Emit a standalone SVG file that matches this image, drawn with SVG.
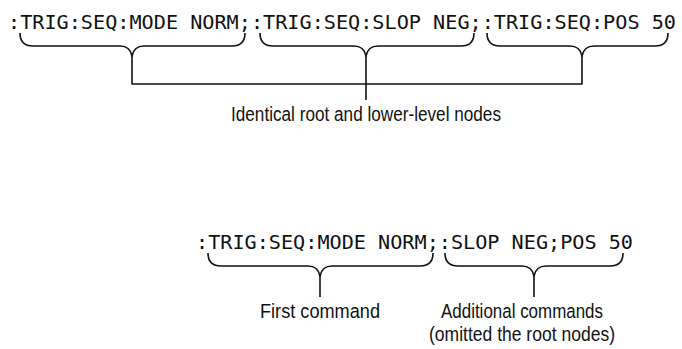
<svg xmlns="http://www.w3.org/2000/svg" width="682" height="349" viewBox="0 0 682 349">
<style>
.code{font-family:"DejaVu Sans Mono","Liberation Mono",monospace;font-size:20.2px;fill:#111}
.lbl{font-family:"Liberation Sans",Arial,sans-serif;font-size:20.5px;fill:#111}
.br{fill:none;stroke:#111;stroke-width:1.6;stroke-linejoin:round}
</style>
<rect width="682" height="349" fill="#fff"/>
<g id="code1"><text class="code" x="8" y="29" textLength="668" lengthAdjust="spacingAndGlyphs">:TRIG:SEQ:MODE NORM;:TRIG:SEQ:SLOP NEG;:TRIG:SEQ:POS 50</text></g>
<g id="label1"><text class="lbl" x="366" y="121" text-anchor="middle" textLength="270" lengthAdjust="spacingAndGlyphs">Identical root and lower-level nodes</text></g>
<g id="code2"><text class="code" x="196" y="249" textLength="437" lengthAdjust="spacingAndGlyphs">:TRIG:SEQ:MODE NORM;:SLOP NEG;POS 50</text></g>
<g id="label2"><text class="lbl" x="320" y="318" text-anchor="middle" textLength="120" lengthAdjust="spacingAndGlyphs">First command</text></g>
<g id="label3"><text class="lbl" x="522" y="318" text-anchor="middle" textLength="162" lengthAdjust="spacingAndGlyphs">Additional commands</text><text class="lbl" x="522" y="341" text-anchor="middle" textLength="186" lengthAdjust="spacingAndGlyphs">(omitted the root nodes)</text></g>
<g id="connectors">
<path class="br" d="M20,33 Q20,46 33,46 L120,46 Q130,46 132,56 Q134,46 144,46 L232,46 Q245,46 245,33"/>
<path class="br" d="M260,33 Q260,46 273,46 L354,46 Q364,46 366,56 Q368,46 378,46 L461,46 Q474,46 474,33"/>
<path class="br" d="M487,33 Q487,46 500,46 L570,46 Q580,46 582,56 Q584,46 594,46 L655,46 Q668,46 668,33"/>
<path class="br" d="M132,56 L132,84 L582,84 L582,56 M366,56 L366,100"/>
<path class="br" d="M208,253 Q208,266 221,266 L308,266 Q318,266 320,276 Q322,266 332,266 L420,266 Q433,266 433,253"/>
<path class="br" d="M445,253 Q445,266 458,266 L522,266 Q532,266 534,276 Q536,266 546,266 L610,266 Q623,266 623,253"/>
<path class="br" d="M320,276 L320,297 M534,276 L534,297"/>
</g>
</svg>
